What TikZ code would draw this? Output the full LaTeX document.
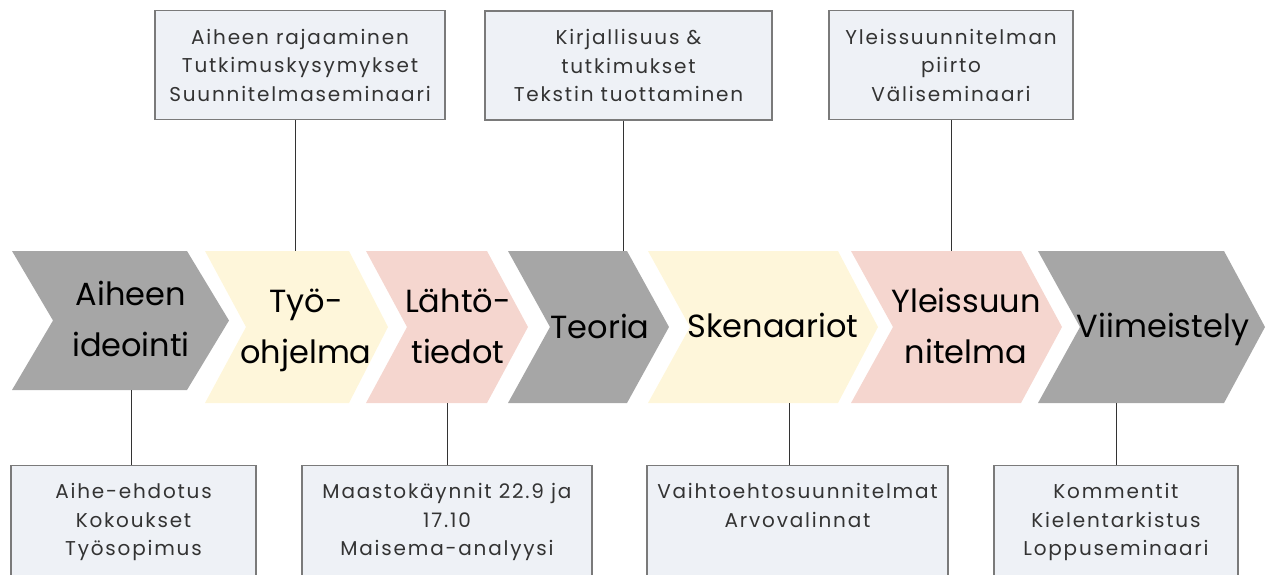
\documentclass[tikz,border=0pt]{standalone}
\usepackage{fontspec}
\setmainfont{Poppins}
\newfontfamily\phasefont{Poppins}
\newfontfamily\notefont[LetterSpace=9]{Poppins}
\definecolor{phasegray}{HTML}{A6A6A6}
\definecolor{phaseyellow}{HTML}{FEF6DA}
\definecolor{phasepink}{HTML}{F5D6CF}
\definecolor{notefill}{HTML}{EEF1F6}
\definecolor{noteline}{HTML}{7A7A7A}
\definecolor{notetext}{HTML}{333333}

\begin{document}
\begin{tikzpicture}[x=1pt,y=-1pt,
  phase/.style={font=\phasefont\fontsize{32}{51}\selectfont, align=center, inner sep=0pt},
  note/.style={draw=noteline, line width=1.2pt, fill=notefill, text=notetext,
    font=\notefont\fontsize{20}{28.5}\selectfont, align=center, inner xsep=2pt},
  topnote/.style={note, minimum height=109pt},
  lownote/.style={note, anchor=north, inner ysep=18pt, text depth=60pt},
  link/.style={draw=black!80, line width=1pt}]
  \useasboundingbox (0,0) rectangle (1271,574);
  \clip (0,0) rectangle (1271,574);

  % chevrons
  \fill[phasegray] (12,251) -- (187,251) -- (229,320.5) -- (187,390) -- (12,390) -- (53,320.5) -- cycle;
  \fill[phaseyellow] (205,251) -- (349,251) -- (388,327) -- (349,403) -- (205,403) -- (246,327) -- cycle;
  \fill[phasepink] (366,251) -- (487,251) -- (528,327) -- (487,403) -- (366,403) -- (407,327) -- cycle;
  \fill[phasegray] (508,251) -- (627,251) -- (669,327) -- (627,403) -- (508,403) -- (550,327) -- cycle;
  \fill[phaseyellow] (648,251) -- (838,251) -- (878,327) -- (838,403) -- (648,403) -- (690,327) -- cycle;
  \fill[phasepink] (851,251) -- (1021,251) -- (1062,327) -- (1021,403) -- (851,403) -- (893,327) -- cycle;
  \fill[phasegray] (1038,251) -- (1224,251) -- (1265,327) -- (1224,403) -- (1038,403) -- (1080,327) -- cycle;

  \node[phase] (ideointi) at (131,319) {Aiheen\\ideointi};
  \node[phase] (ohjelma) at (306,330) {Työ-\\ohjelma};
  \node[phase] (lahto) at (458,326) {Lähtö-\\tiedot};
  \node[phase] (teoria) at (600,326) {Teoria};
  \node[phase] (skenaariot) at (773,325) {Skenaariot};
  \node[phase] (yleis) at (966,326) {Yleissuun\\nitelma};
  \node[phase] (viimeistely) at (1163,329) {Viimeistely};

  % edge points of the chevrons
  \coordinate (ohjelma-top) at (295,251);
  \coordinate (teoria-top) at (623,251);
  \coordinate (yleis-top) at (951,251);
  \coordinate (ideointi-bot) at (131,390);
  \coordinate (lahto-bot) at (447,403);
  \coordinate (skenaariot-bot) at (789,403);
  \coordinate (viimeistely-bot) at (1116,403);

  % notes above
  \node[topnote, minimum width=290pt] (rajaus) at (300,65) {Aiheen rajaaminen\\Tutkimuskysymykset\\Suunnitelmaseminaari};
  \node[topnote, minimum width=287pt] (kirjallisuus) at (628.5,65.5) {Kirjallisuus \&\\tutkimukset\\Tekstin tuottaminen};
  \node[topnote, minimum width=244pt] (piirto) at (951,65) {Yleissuunnitelman\\piirto\\Väliseminaari};

  % notes below
  \node[lownote, minimum width=245pt] (ehdotus) at (133.5,465) {Aihe-ehdotus\\Kokoukset\\Työsopimus};
  \node[lownote, minimum width=290pt] (maasto) at (447,465) {Maastokäynnit 22.9 ja\\17.10\\Maisema-analyysi};
  \node[lownote, minimum width=301pt] (vaihtoehdot) at (797.5,465) {Vaihtoehtosuunnitelmat\\Arvovalinnat};
  \node[lownote, minimum width=244pt] (kommentit) at (1116,465) {Kommentit\\Kielentarkistus\\Loppuseminaari};

  \draw[link] (rajaus.south -| ohjelma-top) -- (ohjelma-top);
  \draw[link] (kirjallisuus.south -| teoria-top) -- (teoria-top);
  \draw[link] (piirto.south -| yleis-top) -- (yleis-top);
  \draw[link] (ideointi-bot) -- (ehdotus.north -| ideointi-bot);
  \draw[link] (lahto-bot) -- (maasto.north -| lahto-bot);
  \draw[link] (skenaariot-bot) -- (vaihtoehdot.north -| skenaariot-bot);
  \draw[link] (viimeistely-bot) -- (kommentit.north -| viimeistely-bot);
\end{tikzpicture}
\end{document}
